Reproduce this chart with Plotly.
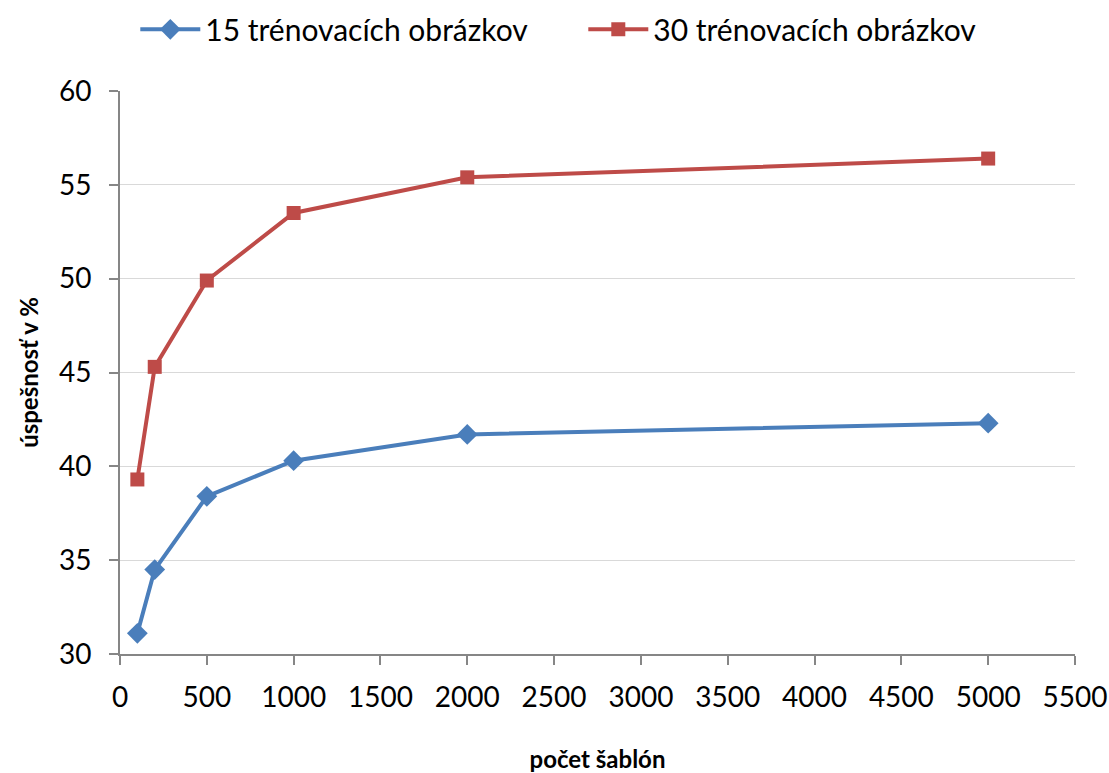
import plotly.graph_objects as go

# Number of templates and recognition accuracy for each training-set size
templates = [100, 200, 500, 1000, 2000, 5000]
acc_15 = [31.1, 34.5, 38.4, 40.3, 41.7, 42.3]
acc_30 = [39.3, 45.3, 49.9, 53.5, 55.4, 56.4]

name_15 = "15 trénovacích obrázkov"
name_30 = "30 trénovacích obrázkov"

x_ticks = list(range(0, 5501, 500))
y_ticks = list(range(30, 61, 5))

FONT = "Lato, 'Open Sans', sans-serif"

fig = go.Figure()
fig.add_trace(go.Scatter(
    x=templates, y=acc_15, name=name_15, mode="lines+markers",
    line=dict(color="#4a7ebb", width=4),
    marker=dict(symbol="diamond", size=16, color="#4a7ebb"),
))
fig.add_trace(go.Scatter(
    x=templates, y=acc_30, name=name_30, mode="lines+markers",
    line=dict(color="#be4b48", width=4),
    marker=dict(symbol="square", size=14, color="#be4b48"),
))

fig.update_layout(
    width=1109, height=773,
    paper_bgcolor="white", plot_bgcolor="white",
    margin=dict(l=120, r=34, t=91, b=119, autoexpand=False),
    font=dict(family=FONT, size=28, color="black"),
    legend=dict(
        orientation="h", xref="container", x=0.122, xanchor="left",
        yref="container", y=0.962, yanchor="middle",
        font=dict(size=30), entrywidth=373, entrywidthmode="pixels",
        itemwidth=60, tracegroupgap=0,
    ),
    showlegend=True,
)
fig.update_xaxes(
    range=[0, 5500], tickvals=x_ticks, showgrid=False,
    showline=True, linecolor="#868686", linewidth=2,
    ticks="outside", ticklen=9, tickwidth=2, tickcolor="#868686",
    tickfont=dict(size=28), ticklabelstandoff=8, zeroline=False,
    title=dict(text="<b>počet šablón</b>", font=dict(size=24), standoff=47),
)
fig.update_yaxes(
    range=[30, 60], tickvals=y_ticks,
    showgrid=True, gridcolor="#d9d9d9", gridwidth=1.2,
    showline=True, linecolor="#868686", linewidth=2,
    ticks="outside", ticklen=9, tickwidth=2, tickcolor="#868686",
    tickfont=dict(size=28), ticklabelstandoff=12, zeroline=False,
    title=dict(text="<b>úspešnosť v %</b>", font=dict(size=24), standoff=14),
)

fig.write_html("out.html")
